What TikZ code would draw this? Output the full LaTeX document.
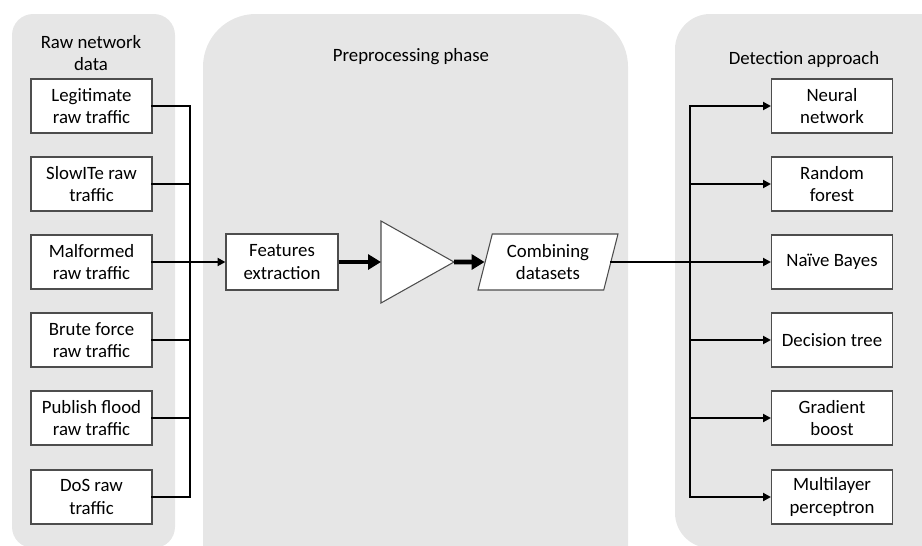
\documentclass[tikz,border=0pt]{standalone}
\usepackage{fontspec}
\setmainfont{Carlito}
\usetikzlibrary{arrows.meta,shapes.geometric}
\definecolor{panelgray}{HTML}{E6E6E6}
\definecolor{edgegray}{HTML}{4D4D4D}

\begin{document}
\begin{tikzpicture}[x=0.02cm,y=-0.02cm,
  font=\fontsize{10.7}{12.8}\selectfont,
  panel/.style={fill=panelgray},
  box/.style={draw=edgegray,fill=white,line width=0.6pt,minimum width=2.42cm,minimum height=1.08cm,align=center,inner sep=1pt},
  wire/.style={line width=1.5pt,line cap=rect},
  feed/.style={wire,-{Triangle[length=4.5pt,width=4.5pt]}},
  fat/.style={line width=2.6pt,-{Triangle[length=7.4pt,width=8.5pt]}}]
\clip (0,0) rectangle (922,545);
% panels
\fill[panel,rounded corners=12pt] (12,14) rectangle (175,548);
\fill[panel,rounded corners=30pt] (203,14) rectangle (628,600);
\fill[panel,rounded corners=20pt] (675,14) rectangle (960,548);
\node (tl) at (91,53) [align=center] {Raw network\\data};
\node (tm) at (411,57) {Preprocessing phase};
\node (tr) at (804,59) {Detection approach};
% raw traffic
\node[box] (legit) at (91.5,106) {Legitimate\\raw traffic};
\node[box] (slow) at (91.5,184) {SlowITe raw\\traffic};
\node[box] (malf) at (91.5,262) {Malformed\\raw traffic};
\node[box] (brute) at (91.5,340) {Brute force\\raw traffic};
\node[box] (flood) at (91.5,418) {Publish flood\\raw traffic};
\node[box] (dos) at (91.5,497) {DoS raw\\traffic};
\coordinate (busL) at (190,0);
% preprocessing
\node[box,minimum width=2.24cm,minimum height=1.12cm] (feat) at (282,262) {Features\\extraction};
\coordinate (triL) at (381,262);
\coordinate (triR) at (454,262);
\draw[draw=edgegray,fill=white,line width=0.6pt] (381,221) -- (triR) -- (381,303) -- cycle;
\node[box,trapezium,trapezium left angle=70,trapezium right angle=110,minimum width=2.8cm,minimum height=1.12cm,trapezium stretches body] (comb) at (548,262) {Combining\\datasets};
\coordinate (busR) at (690,0);
% detection
\node[box] (nn) at (832,106) {Neural\\network};
\node[box] (rf) at (832,184) {Random\\forest};
\node[box] (nb) at (832,262) {Naïve Bayes};
\node[box] (dt) at (832,340) {Decision tree};
\node[box] (gb) at (832,418) {Gradient\\boost};
\node[box] (mlp) at (832,497) {Multilayer\\perceptron};
% connectors
\draw[wire] (legit.east) -- (legit.east -| busL) -- (dos.east -| busL) -- (dos.east);
\draw[wire] (slow.east) -- (slow.east -| busL);
\draw[wire] (brute.east) -- (brute.east -| busL);
\draw[wire] (flood.east) -- (flood.east -| busL);
\draw[feed] (malf.east) -- (feat.west);
\draw[fat] (feat.east) -- (triL);
\draw[fat] (triR) -- (comb.west);
\draw[wire] (comb.east) -- (comb.east -| busR);
\draw[feed] (mlp.west -| busR) -- (nn.west -| busR) -- (nn.west);
\draw[feed] (rf.west -| busR) -- (rf.west);
\draw[feed] (nb.west -| busR) -- (nb.west);
\draw[feed] (dt.west -| busR) -- (dt.west);
\draw[feed] (gb.west -| busR) -- (gb.west);
\draw[feed] (mlp.west -| busR) -- (mlp.west);
\end{tikzpicture}
\end{document}
